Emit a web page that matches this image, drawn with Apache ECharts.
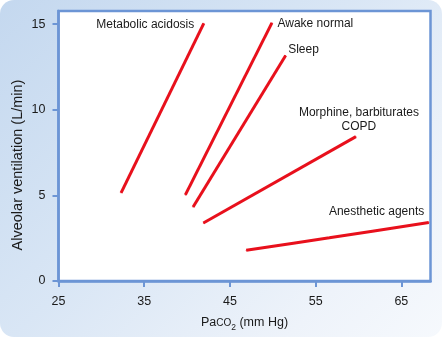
<!DOCTYPE html>
<html>
<head>
<meta charset="utf-8">
<script src="https://cdn.jsdelivr.net/npm/echarts@6/dist/echarts.min.js"></script>
<style>
  html, body { margin: 0; padding: 0; background: #ffffff; }
  #chart {
    width: 442px; height: 337px;
    border-radius: 14px;
    overflow: hidden;
    background: linear-gradient(135deg, #c4d8ef 0%, #d9e6f5 45%, #eef3fa 80%, #f6f9fd 100%);
  }
</style>
</head>
<body>
<div id="chart"></div>
<script>
// Ventilatory response to CO2: [PaCO2 (mm Hg), alveolar ventilation (L/min)]
const metabolicAcidosis = [[32.3, 5.15], [41.95, 15.05]];
const awakeNormal       = [[39.8, 5.03], [49.9, 15.08]];
const sleep             = [[40.7, 4.32], [51.5, 13.17]];
const morphineCOPD      = [[41.9, 3.39], [59.7, 8.43]];
const anestheticAgents  = [[46.9, 1.80], [56.6, 2.52], [68.2, 3.42]];

const xTicks = [25, 35, 45, 55, 65];
const yTicks = [0, 5, 10, 15];

const RED = '#e8101c';
const BLUE = '#6c95d5';
const TEXT = '#1a1a1a';
const FONT = 'Liberation Sans, Arial, sans-serif';

// One response line; the curve name is printed next to one of its ends.
function curve(name, pts, labelIdx, labelOpt) {
  return {
    name: name,
    type: 'line',
    data: pts.map((p, i) => i === labelIdx
      ? { value: p, label: Object.assign({ show: true, formatter: name, color: TEXT,
          fontSize: 12, fontFamily: FONT }, labelOpt) }
      : { value: p }),
    smooth: pts.length > 2 ? 0.3 : false,
    showSymbol: true,
    showAllSymbol: true,
    symbol: 'circle',
    symbolSize: 1,
    itemStyle: { color: RED },
    lineStyle: { color: RED, width: 3, cap: 'butt' },
    label: { show: false },
    clip: false,
    animation: false
  };
}

const chart = echarts.init(document.getElementById('chart'), null, { renderer: 'canvas' });
chart.setOption({
  backgroundColor: 'transparent',
  animation: false,
  grid: {
    left: 58.5, right: 11.5, top: 11, bottom: 53.8,
    show: true, backgroundColor: '#ffffff',
    borderColor: BLUE, borderWidth: 2.5
  },
  xAxis: {
    type: 'value', min: 25, max: 68.4,
    splitLine: { show: false },
    axisLine: { show: true, lineStyle: { color: BLUE, width: 2.5 } },
    axisTick: { show: true, length: 6, customValues: xTicks, lineStyle: { color: BLUE, width: 2 } },
    axisLabel: { customValues: xTicks, color: TEXT, fontSize: 12.5, fontFamily: FONT, margin: 14 },
    name: 'Pa{s|CO}{sub|2} (mm Hg)',
    nameLocation: 'middle',
    nameGap: 35,
    nameTextStyle: {
      color: TEXT, fontSize: 12.5, fontFamily: FONT,
      rich: {
        s: { fontSize: 10, color: TEXT, fontFamily: FONT, verticalAlign: 'bottom', padding: [0, 0, 1, 0] },
        sub: { fontSize: 8.5, color: TEXT, fontFamily: FONT, verticalAlign: 'bottom', padding: [0, 0, -3, 0] }
      }
    }
  },
  yAxis: {
    type: 'value', min: 0, max: 15.77,
    splitLine: { show: false },
    axisLine: { show: true, lineStyle: { color: BLUE, width: 2.5 } },
    axisTick: { show: true, length: 6, customValues: yTicks, lineStyle: { color: BLUE, width: 2 } },
    axisLabel: { customValues: yTicks, color: TEXT, fontSize: 12.5, fontFamily: FONT, margin: 13 }
  },
  graphic: [{
    type: 'text',
    x: 18, y: 165,
    rotation: Math.PI / 2,
    style: {
      text: 'Alveolar ventilation (L/min)',
      fill: TEXT, fontSize: 14.5, fontFamily: FONT,
      align: 'center', verticalAlign: 'middle'
    }
  }],
  series: [
    curve('Metabolic acidosis', metabolicAcidosis, 1, { position: 'left', distance: 9, offset: [0, 1] }),
    curve('Awake normal', awakeNormal, 1, { position: 'right', distance: 5, offset: [0, 1] }),
    curve('Sleep', sleep, 1, { position: 'right', distance: 2, offset: [0, -6] }),
    curve('Morphine, barbiturates\nCOPD', morphineCOPD, 1, { position: 'top', distance: 2, offset: [3, 0], align: 'center', lineHeight: 14 }),
    curve('Anesthetic agents', anestheticAgents, 2, { position: 'left', distance: 4, offset: [0, -11] })
  ]
});
</script>
</body>
</html>
